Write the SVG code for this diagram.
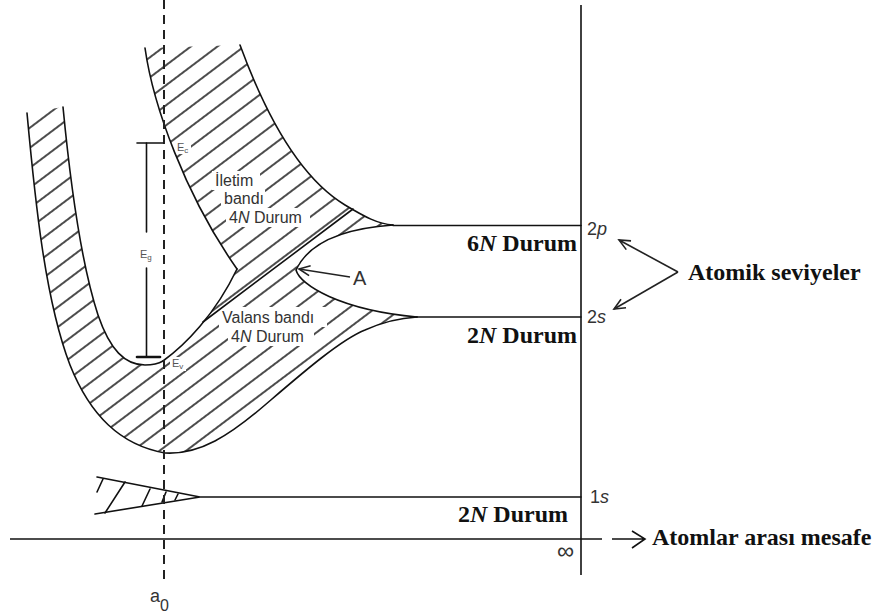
<svg xmlns="http://www.w3.org/2000/svg" width="882" height="613" viewBox="0 0 882 613">
<style>
.ln{fill:none;stroke:#111;stroke-width:1.6;stroke-linejoin:round;stroke-linecap:round}
.ax{fill:none;stroke:#111;stroke-width:1.6}
.dash{fill:none;stroke:#222;stroke-width:2;stroke-dasharray:9 6}
.arrow{fill:none;stroke:#222;stroke-width:1.6}
.sans{font-family:"Liberation Sans",Arial,sans-serif;fill:#333}
.band{font-size:16px}
.bold{font-family:"Liberation Serif","Times New Roman",serif;font-weight:bold;fill:#111;font-size:24px}
.small{font-family:"Liberation Sans",Arial,sans-serif;fill:#555;font-size:11px}
.gap{fill:#fff;stroke:none}
</style>
<defs>
<pattern id="hatch" patternUnits="userSpaceOnUse" width="16" height="16" patternTransform="rotate(-37)">
<line x1="-1" y1="8" x2="17" y2="8" stroke="#111" stroke-width="1.5"/>
</pattern>
<marker id="arr" markerUnits="userSpaceOnUse" markerWidth="14" markerHeight="12" refX="12" refY="6" orient="auto">
<path d="M1,1 L12,6 L1,11" fill="none" stroke="#222" stroke-width="1.6"/>
</marker>
</defs>
<rect width="882" height="613" fill="#fff"/>

<g id="bands">
<path id="hatch-area" fill="url(#hatch)" stroke="none" d="M27,113 C35,200 45,300 70,365 C90,415 120,445 165,453 C200,455 230,435 265,405 C300,375 340,340 365,330 C385,321 400,318 417,317 C340,310 300,285 296,270 C310,240 350,228 393,225 C378,224 365,217 345,205 C295,175 262,105 240,45 L145,48 C153,105 185,195 237,269 C215,315 185,345 163,361 C158,364 152,365 145,365 C125,365 110,350 98,315 C80,260 70,180 63,107 Z"/>
<rect class="gap" x="212" y="171" width="48" height="19"/>
<rect class="gap" x="221" y="190" width="44" height="18"/>
<rect class="gap" x="226" y="208" width="84" height="19"/>
<rect class="gap" x="219" y="307" width="108" height="20"/>
<rect class="gap" x="228" y="327" width="86" height="19"/>
<rect class="gap" x="175" y="141" width="16" height="13"/>
<rect class="gap" x="170" y="357" width="16" height="14"/>
<path class="ln" d="M27,113 C35,200 45,300 70,365 C90,415 120,445 165,453 C200,455 230,435 265,405 C300,375 340,340 365,330 C385,321 400,318 417,317"/>
<path class="ln" d="M63,107 C70,180 80,260 98,315 C110,350 125,365 145,365 C152,365 158,364 163,361"/>
<path class="ln" d="M163,361 C185,345 215,315 237,269"/>
<path class="ln" d="M145,48 C153,105 185,195 237,269"/>
<path class="ln" d="M240,45 C262,105 295,175 345,205 C365,217 378,224 393,225"/>
<path class="ln" d="M393,225 C350,228 310,240 296,270 C300,285 340,310 417,317"/>
<path class="ln" d="M203,322 L353,209"/>
<path class="ln" d="M393,225.5 L581,225.5"/>
<path class="ln" d="M417,317 L581,317"/>
</g>

<g id="band-1s">
<path class="ln" d="M97,477 L200,497 M95,514 L200,497 M200,497 L581,497"/>
<path class="ln" d="M97,492 L103,479 M105,513 L125,482 M142,506 L150,489 M162,502 L166,492 M175,500 L178,494"/>
</g>

<g id="axes">
<path class="ax" d="M10,539 L602,539"/>
<path class="ax" d="M581,5 L581,575"/>
<path class="dash" d="M164,0 L164,582"/>
<path class="ax" d="M612,539 L645,539 M632,531 L645,539 L632,548"/>
</g>

<g id="gap-bar">
<path class="ln" d="M146.5,143 L146.5,232 M146.5,268 L146.5,357"/>
<path class="ln" d="M137,143 L163,143"/>
<path class="ln" style="stroke-width:2.6" d="M137,357 L160,357"/>
</g>

<g id="connectors">
<path class="arrow" marker-end="url(#arr)" d="M350,277 L299,269"/>
<path class="arrow" marker-end="url(#arr)" d="M678,272 L619,240"/>
<path class="arrow" marker-end="url(#arr)" d="M678,272 L614,309"/>
</g>

<g id="labels">
<text class="small" x="177" y="151">E<tspan font-size="8" dy="2">c</tspan></text>
<text class="small" x="140" y="258">E<tspan font-size="8" dy="2">g</tspan></text>
<text class="small" x="172" y="367">E<tspan font-size="8" dy="2">v</tspan></text>
<g id="label-iletim" class="sans band">
<text x="215" y="186">İletim</text>
<text x="224" y="204">bandı</text>
<text x="229" y="222.5">4<tspan font-style="italic">N</tspan> Durum</text>
</g>
<g id="label-valans" class="sans band">
<text x="222" y="323">Valans bandı</text>
<text x="231" y="342">4<tspan font-style="italic">N</tspan> Durum</text>
</g>
<text id="label-A" class="sans" x="353" y="285" font-size="20" fill="#222">A</text>
<text class="sans" x="587" y="235" font-size="18">2<tspan font-style="italic">p</tspan></text>
<text class="sans" x="587" y="323" font-size="18">2<tspan font-style="italic">s</tspan></text>
<text class="sans" x="590" y="503" font-size="18">1<tspan font-style="italic">s</tspan></text>
<text class="sans" x="574" y="559" font-size="24" text-anchor="end">∞</text>
<text class="sans" x="150" y="602" font-size="18">a<tspan font-size="16" dy="9">0</tspan></text>
<text class="bold" x="577" y="251" text-anchor="end">6<tspan font-style="italic">N</tspan> Durum</text>
<text class="bold" x="577" y="343" text-anchor="end">2<tspan font-style="italic">N</tspan> Durum</text>
<text class="bold" x="568" y="522" text-anchor="end">2<tspan font-style="italic">N</tspan> Durum</text>
<text class="bold" x="688" y="280" font-size="24.5">Atomik seviyeler</text>
<text class="bold" x="652" y="545" font-size="24.5">Atomlar arası mesafe</text>
</g>
</svg>
